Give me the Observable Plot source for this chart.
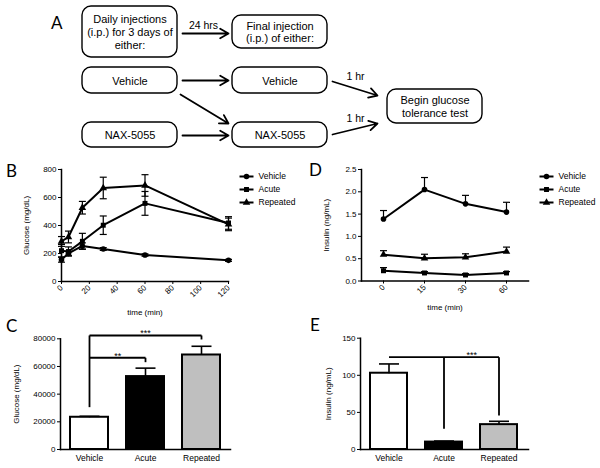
<!DOCTYPE html>
<html><head><meta charset="utf-8">
<script src="https://cdn.jsdelivr.net/npm/d3@7"></script>
<script src="https://cdn.jsdelivr.net/npm/@observablehq/plot@0.6"></script>
<style>
body{margin:0;background:#fff;}
#fig{position:relative;width:600px;height:468px;overflow:hidden;background:#fff;font-family:"Liberation Sans",Arial,Helvetica,sans-serif;}
.letter{position:absolute;font-family:Lato,"Open Sans",sans-serif;font-size:17px;line-height:1;color:#000;}
</style></head><body><div id="fig"></div>
<script>
// ---------------- data ----------------
const flowBoxLabels = ["Daily injections\n(i.p.) for 3 days of\neither:", "Final injection\n(i.p.) of either:", "Vehicle", "Vehicle", "NAX-5055", "NAX-5055", "Begin glucose\ntolerance test"];
const flowArrowLabels = ["24 hrs", "", "", "", "1 hr", "1 hr"];

const seriesNames = ["Vehicle", "Acute", "Repeated"];

const glucoseTimes = [0, 5, 15, 30, 60, 120];
const glucoseVehicle = [156, 201, 254, 232, 189, 151];
const glucoseVehicleErr = [18, 14, 22, 10, 8, 7];
const glucoseAcute = [220, 214, 287, 402, 558, 418];
const glucoseAcuteErr = [45, 33, 57, 66, 85, 45];
const glucoseRepeated = [286, 318, 527, 668, 686, 408];
const glucoseRepeatedErr = [35, 42, 45, 77, 77, 45];
const glucoseTicks = [0, 200, 400, 600, 800];
const timeTicks = [0, 20, 40, 60, 80, 100, 120];

const insulinTimes = [0, 15, 30, 60];
const insulinVehicle = [1.39, 2.05, 1.73, 1.545];
const insulinVehicleErr = [0.19, 0.27, 0.19, 0.22];
const insulinAcute = [0.23, 0.18, 0.135, 0.18];
const insulinAcuteErr = [0.07, 0.03, 0.03, 0.03];
const insulinRepeated = [0.59, 0.51, 0.53, 0.66];
const insulinRepeatedErr = [0.09, 0.09, 0.08, 0.10];
const insulinTicks = [0, 0.5, 1, 1.5, 2, 2.5];

const groups = ["Vehicle", "Acute", "Repeated"];
const glucoseAUC = [23300, 52700, 68300];
const glucoseAUCErr = [700, 6100, 6300];
const glucoseAUCTicks = [0, 20000, 40000, 60000, 80000];
const insulinAUC = [102.8, 10, 33.5];
const insulinAUCErr = [12.5, 1.4, 4.5];
const insulinAUCTicks = [0, 50, 100, 150];

// significance brackets (segments in data units) and their labels
const sigGlucoseSegments = [
  ["Vehicle", 82400, "Repeated", 82400], ["Vehicle", 82400, "Vehicle", 30600], ["Repeated", 82400, "Repeated", 79500],
  ["Vehicle", 66300, "Acute", 66300], ["Acute", 66300, "Acute", 63100]
];
const sigGlucoseLabels = [["***", "Acute", 82400, 0], ["**", "Vehicle", 66300, 1]];
const sigInsulinSegments = [
  ["Vehicle", 124.4, "Repeated", 124.4], ["Acute", 124.4, "Acute", 27.9], ["Repeated", 124.4, "Repeated", 45.8]
];
const sigInsulinLabels = [["***", "Acute", 124.4, 1]];

// ---------------- layout / style ----------------
const FONT = '"Liberation Sans", Arial, Helvetica, sans-serif';
const fig = document.getElementById("fig");
function place(el, left, top) { el.style.position = "absolute"; el.style.left = left + "px"; el.style.top = top + "px"; fig.appendChild(el); return el; }
function letter(t, left, top) { const d = document.createElement("div"); d.className = "letter"; d.textContent = t; place(d, left, top); }
const baseStyle = {fontFamily: FONT, fontSize: "8px", background: "transparent", overflow: "visible", color: "black"};
const capSymbol = {draw(ctx, size) { const w = Math.sqrt(size / Math.PI); ctx.moveTo(-w, 0); ctx.lineTo(w, 0); }};
const symbolScale = {domain: seriesNames, range: ["circle", "square", "triangle"]};

// flow diagram geometry (diagram layout, pixel units)
const flowBoxGeom = [[82,177,6,57],[232,327,15,48],[82,177,67,93],[232,327,67,93],[82,177,122,147],[232,327,122,147],[387,482,89,123]];
const flowArrowGeom = [[182,33,228,33],[182,80,228,80],[180,94,228,123],[182,135,228,135],[332,81,377,95],[332,134,377,123]];
const flowArrowLabelPos = [[203,25],null,null,null,[355,76],[355,118]];

// ---------------- Panel A ----------------
const boxes = flowBoxLabels.map((label, i) => ({label, x1: flowBoxGeom[i][0], x2: flowBoxGeom[i][1], y1: flowBoxGeom[i][2], y2: flowBoxGeom[i][3]}));
const arrows = flowArrowLabels.map((label, i) => ({label, x1: flowArrowGeom[i][0], y1: flowArrowGeom[i][1], x2: flowArrowGeom[i][2], y2: flowArrowGeom[i][3], lx: flowArrowLabelPos[i] ? flowArrowLabelPos[i][0] : 0, ly: flowArrowLabelPos[i] ? flowArrowLabelPos[i][1] : 0}));
place(Plot.plot({
  width: 600, height: 150, margin: 0, style: {...baseStyle, fontSize: "11px"},
  x: {domain: [0, 600], range: [0, 600], axis: null},
  y: {domain: [0, 150], range: [0, 150], axis: null},
  marks: [
    Plot.rect(boxes, {x1: "x1", x2: "x2", y1: "y1", y2: "y2", rx: 9, fill: "white", stroke: "black", strokeWidth: 1.4}),
    Plot.text(boxes, {x: d => (d.x1 + d.x2) / 2, y: d => (d.y1 + d.y2) / 2, text: "label", fontSize: 11, lineHeight: 1.14}),
    Plot.arrow(arrows, {x1: "x1", y1: "y1", x2: "x2", y2: "y2", stroke: "black", strokeWidth: 1.8, headLength: 8}),
    Plot.text(arrows.filter(d => d.label), {x: "lx", y: "ly", text: "label", fontSize: 10.5})
  ]
}), 0, 0);

// ---------------- helpers ----------------
function rowsFor(times, arrays, errs) {
  const rows = [];
  seriesNames.forEach((s, k) => times.forEach((t, i) => rows.push({series: s, time: t, value: arrays[k][i], err: errs[k][i]})));
  return rows;
}
function legendPlot() {
  return Plot.plot({
    width: 80, height: 46, margin: 0, style: {...baseStyle, fontSize: "8.5px"},
    x: {domain: [0, 1], range: [9, 23], axis: null},
    y: {domain: seriesNames, type: "point", padding: 0, range: [10, 36], axis: null},
    symbol: symbolScale,
    marks: [
      Plot.link(seriesNames, {x1: 0, x2: 1, y1: d => d, y2: d => d, stroke: "black", strokeWidth: 2}),
      Plot.dot(seriesNames, {x: 0.5, y: d => d, symbol: d => d, fill: "black", r: 2.8}),
      Plot.text(seriesNames, {x: 1, y: d => d, text: d => d, textAnchor: "start", dx: 5})
    ]
  });
}

// ---------------- Panel B ----------------
const rowsB = rowsFor(glucoseTimes, [glucoseVehicle, glucoseAcute, glucoseRepeated], [glucoseVehicleErr, glucoseAcuteErr, glucoseRepeatedErr]);
place(Plot.plot({
  width: 236, height: 165, marginLeft: 61, marginRight: 8, marginTop: 19, marginBottom: 34,
  style: baseStyle,
  x: {domain: [0, 120]}, y: {domain: [0, 800]}, symbol: symbolScale,
  marks: [
    Plot.frame({anchor: "left", strokeWidth: 1.5}),
    Plot.frame({anchor: "bottom", strokeWidth: 1.5}),
    Plot.axisY({ticks: glucoseTicks, tickSize: 3, tickPadding: 2, label: "Glucose (mg/dL)", labelAnchor: "center", labelOffset: 38, labelArrow: "none"}),
    Plot.axisX({ticks: timeTicks, tickSize: 3, tickPadding: 2, tickRotate: -45, label: "time (min)", labelAnchor: "center", labelOffset: 33, labelArrow: "none"}),
    Plot.link(rowsB, {x1: "time", x2: "time", y1: d => d.value - d.err, y2: d => d.value + d.err, stroke: "black", strokeWidth: 1.2}),
    Plot.dot(rowsB, {x: "time", y: d => d.value + d.err, symbol: capSymbol, r: 3.5, stroke: "black", strokeWidth: 1.2}),
    Plot.dot(rowsB, {x: "time", y: d => d.value - d.err, symbol: capSymbol, r: 3.5, stroke: "black", strokeWidth: 1.2}),
    Plot.line(rowsB, {x: "time", y: "value", z: "series", stroke: "black", strokeWidth: 2}),
    Plot.dot(rowsB, {x: "time", y: "value", symbol: "series", fill: "black", r: 2.8})
  ]
}), 0, 150);
place(legendPlot(), 230, 166);

// ---------------- Panel D ----------------
const rowsD = rowsFor(insulinTimes, [insulinVehicle, insulinAcute, insulinRepeated], [insulinVehicleErr, insulinAcuteErr, insulinRepeatedErr]);
place(Plot.plot({
  width: 236, height: 165, marginLeft: 61, marginRight: 8, marginTop: 19, marginBottom: 34.5,
  style: baseStyle,
  x: {type: "point", domain: insulinTimes, padding: 0.5}, y: {domain: [0, 2.5]}, symbol: symbolScale,
  marks: [
    Plot.frame({anchor: "left", strokeWidth: 1.5}),
    Plot.frame({anchor: "bottom", strokeWidth: 1.5}),
    Plot.axisY({ticks: insulinTicks, tickFormat: ".1f", tickSize: 3, tickPadding: 2, label: "Insulin (ng/mL)", labelAnchor: "center", labelOffset: 38, labelArrow: "none"}),
    Plot.axisX({tickSize: 3, tickPadding: 2, tickRotate: -45, label: "time (min)", labelAnchor: "center", labelOffset: 28.5, labelArrow: "none"}),
    Plot.link(rowsD, {x1: "time", x2: "time", y1: "value", y2: d => d.value + d.err, stroke: "black", strokeWidth: 1.2}),
    Plot.dot(rowsD, {x: "time", y: d => d.value + d.err, symbol: capSymbol, r: 3.5, stroke: "black", strokeWidth: 1.2}),
    Plot.line(rowsD, {x: "time", y: "value", z: "series", stroke: "black", strokeWidth: 2}),
    Plot.dot(rowsD, {x: "time", y: "value", symbol: "series", fill: "black", r: 2.8})
  ]
}), 300, 150);
place(legendPlot(), 530, 166);

// ---------------- Bar panels C and E ----------------
const padInner = 0.324, padOuter = 0.173;
const barColors = ["white", "black", "#bfbfbf"];
function barPanel({values, errs, ticks, tickFormat, label, labelOffset, width, marginLeft, marginRight, marginTop, yMax, segments, labels}) {
  const rows = groups.map((g, i) => ({group: g, value: values[i], err: errs[i]}));
  const halfStep = (width - marginLeft - marginRight) / (groups.length - padInner + 2 * padOuter) / 2;
  const segs = segments.map(s => ({x1: s[0], y1: s[1], x2: s[2], y2: s[3]}));
  const labs = labels.map(l => ({text: l[0], x: l[1], y: l[2], half: l[3]}));
  return Plot.plot({
    width, height: 153, marginLeft, marginRight, marginTop, marginBottom: 19,
    style: baseStyle,
    x: {domain: groups, paddingInner: padInner, paddingOuter: padOuter},
    y: {domain: [0, yMax]},
    color: {domain: groups, range: barColors},
    marks: [
      Plot.barY(rows, {x: "group", y: "value", fill: "group", stroke: "black", strokeWidth: 2}),
      Plot.link(rows, {x1: "group", x2: "group", y1: "value", y2: d => d.value + d.err, stroke: "black", strokeWidth: 1.6}),
      Plot.dot(rows, {x: "group", y: d => d.value + d.err, symbol: capSymbol, r: 10, stroke: "black", strokeWidth: 1.6}),
      Plot.link(segs, {x1: "x1", y1: "y1", x2: "x2", y2: "y2", stroke: "black", strokeWidth: 1.8}),
      Plot.text(labs.filter(d => !d.half), {x: "x", y: "y", text: "text", lineAnchor: "bottom", dy: 1, fontSize: 9}),
      Plot.text(labs.filter(d => d.half), {x: "x", y: "y", text: "text", lineAnchor: "bottom", dy: 1, dx: halfStep, fontSize: 9}),
      Plot.frame({anchor: "left", strokeWidth: 1.5}),
      Plot.frame({anchor: "bottom", strokeWidth: 1.5}),
      Plot.axisY({ticks, tickFormat, tickSize: 3, tickPadding: 2, label, labelAnchor: "center", labelOffset, labelArrow: "none"}),
      Plot.axisX({tickSize: 0, tickPadding: 5, label: null, fontSize: 8.5})
    ]
  });
}
place(barPanel({values: glucoseAUC, errs: glucoseAUCErr, ticks: glucoseAUCTicks, tickFormat: "d", label: "Glucose (mg/dL)", labelOffset: 47,
  width: 240, marginLeft: 60, marginRight: 10, marginTop: 23.3, yMax: 80000, segments: sigGlucoseSegments, labels: sigGlucoseLabels}), 0, 315);
place(barPanel({values: insulinAUC, errs: insulinAUCErr, ticks: insulinAUCTicks, tickFormat: "d", label: "Insulin (ng/mL)", labelOffset: 35,
  width: 240, marginLeft: 60, marginRight: 12, marginTop: 22.7, yMax: 150, segments: sigInsulinSegments, labels: sigInsulinLabels}), 300, 315);

// ---------------- panel letters ----------------
letter("A", 51, 13.5);
letter("B", 6, 161.5);
letter("C", 6, 317);
letter("D", 309, 160.5);
letter("E", 310, 315.5);
</script></body></html>
